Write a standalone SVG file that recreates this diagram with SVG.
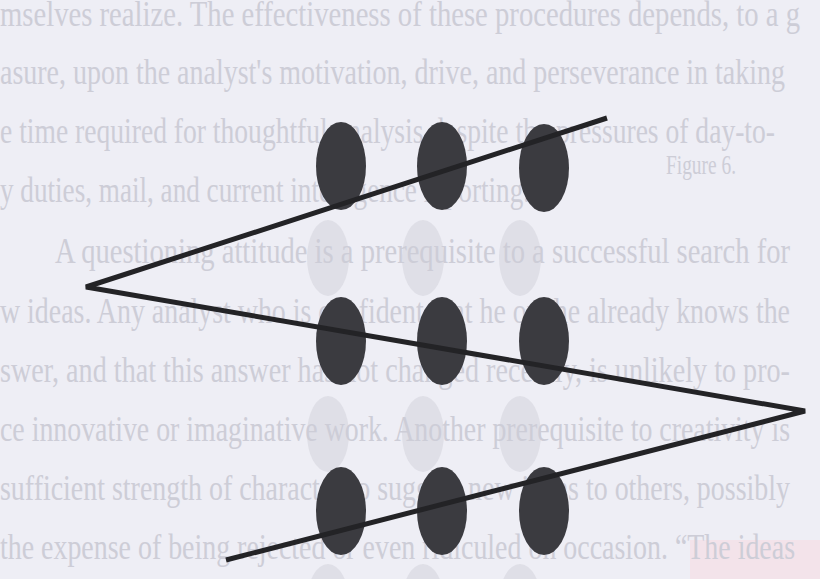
<svg xmlns="http://www.w3.org/2000/svg" width="820" height="579" viewBox="0 0 820 579">
  <style>
    .bg-text { font-family: "Liberation Serif", "Times New Roman", serif; font-size: 36px; fill: #cdcdd7; }
    .ghost { fill: #dfdfe7; }
    .dot { fill: #3b3b40; }
    .path { fill: none; stroke: #232326; stroke-width: 5; stroke-linejoin: miter; stroke-linecap: butt; }
  </style>
  <rect x="0" y="0" width="820" height="579" fill="#eeeef5"/>
  <rect x="690" y="540" width="130" height="39" fill="#f3e3ea"/>

  <g id="bleed-through-dots">
    <ellipse class="ghost" cx="328" cy="258" rx="21" ry="38"/>
    <ellipse class="ghost" cx="423" cy="258" rx="21" ry="38"/>
    <ellipse class="ghost" cx="520" cy="258" rx="21" ry="38"/>
    <ellipse class="ghost" cx="328" cy="434" rx="21" ry="38"/>
    <ellipse class="ghost" cx="423" cy="434" rx="21" ry="38"/>
    <ellipse class="ghost" cx="520" cy="434" rx="21" ry="38"/>
    <ellipse class="ghost" cx="328" cy="602" rx="21" ry="38"/>
    <ellipse class="ghost" cx="423" cy="602" rx="21" ry="38"/>
    <ellipse class="ghost" cx="520" cy="602" rx="21" ry="38"/>
  </g>

  <g id="bleed-through-text">
    <text class="bg-text" x="0" y="26" textLength="800" lengthAdjust="spacingAndGlyphs">mselves realize. The effectiveness of these procedures depends, to a g</text>
    <text class="bg-text" x="0" y="84" textLength="785" lengthAdjust="spacingAndGlyphs">asure, upon the analyst's motivation, drive, and perseverance in taking</text>
    <text class="bg-text" x="0" y="143" textLength="775" lengthAdjust="spacingAndGlyphs">e time required for thoughtful analysis despite the pressures of day-to-</text>
    <text class="bg-text" x="666" y="174" textLength="70" lengthAdjust="spacingAndGlyphs" style="font-size:28px">Figure 6.</text>
    <text class="bg-text" x="0" y="202" textLength="530" lengthAdjust="spacingAndGlyphs">y duties, mail, and current intelligence reporting.</text>
    <text class="bg-text" x="55" y="263" textLength="735" lengthAdjust="spacingAndGlyphs">A questioning attitude is a prerequisite to a successful search for</text>
    <text class="bg-text" x="0" y="323" textLength="790" lengthAdjust="spacingAndGlyphs">w ideas. Any analyst who is confident that he or she already knows the</text>
    <text class="bg-text" x="0" y="382" textLength="790" lengthAdjust="spacingAndGlyphs">swer, and that this answer has not changed recently, is unlikely to pro-</text>
    <text class="bg-text" x="0" y="441" textLength="790" lengthAdjust="spacingAndGlyphs">ce innovative or imaginative work. Another prerequisite to creativity is</text>
    <text class="bg-text" x="0" y="500" textLength="790" lengthAdjust="spacingAndGlyphs">sufficient strength of character to suggest new ideas to others, possibly</text>
    <text class="bg-text" x="0" y="559" textLength="795" lengthAdjust="spacingAndGlyphs">the expense of being rejected or even ridiculed on occasion. “The ideas</text>
  </g>

  <g id="dot-1-1"><ellipse class="dot" cx="341" cy="166" rx="25" ry="44"/></g>
  <g id="dot-1-2"><ellipse class="dot" cx="442" cy="166" rx="25" ry="44"/></g>
  <g id="dot-1-3"><ellipse class="dot" cx="544" cy="168" rx="25" ry="44"/></g>
  <g id="dot-2-1"><ellipse class="dot" cx="341" cy="341" rx="25" ry="44"/></g>
  <g id="dot-2-2"><ellipse class="dot" cx="442" cy="341" rx="25" ry="44"/></g>
  <g id="dot-2-3"><ellipse class="dot" cx="544" cy="341" rx="25" ry="44"/></g>
  <g id="dot-3-1"><ellipse class="dot" cx="341" cy="511" rx="25" ry="44"/></g>
  <g id="dot-3-2"><ellipse class="dot" cx="442" cy="511" rx="25" ry="44"/></g>
  <g id="dot-3-3"><ellipse class="dot" cx="544" cy="511" rx="25" ry="44"/></g>

  <g id="connectors">
    <polyline class="path" points="607,118 86,287 805,411 226,560"/>
  </g>
</svg>
